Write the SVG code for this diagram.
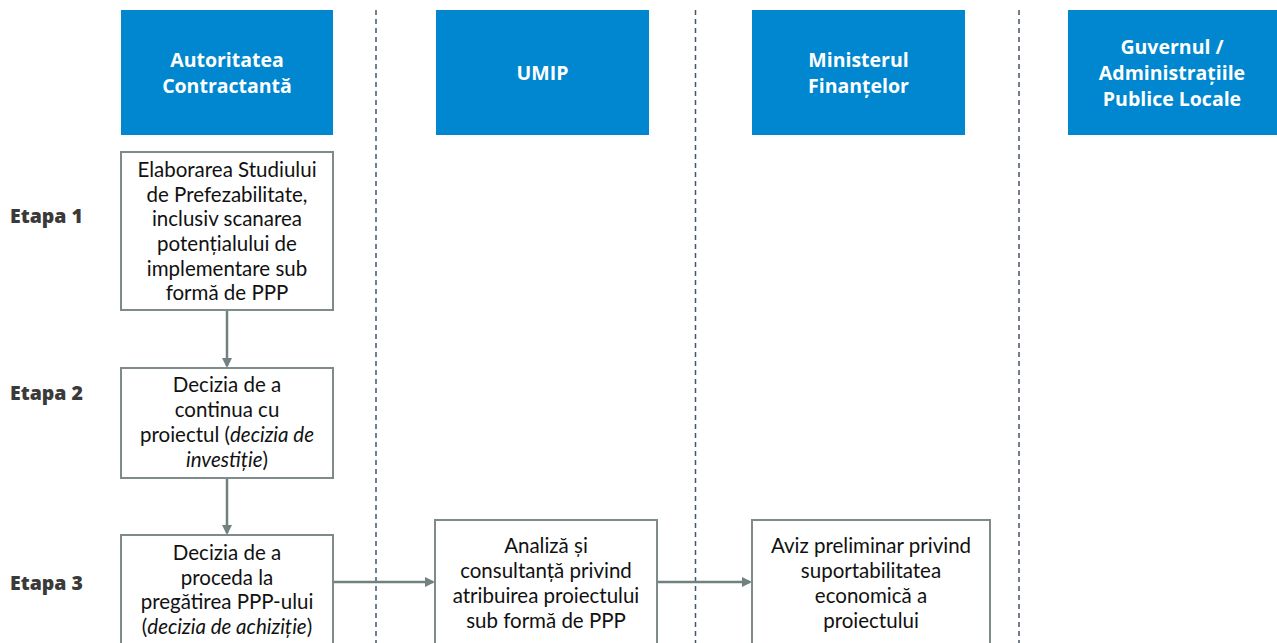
<svg xmlns="http://www.w3.org/2000/svg" width="1277" height="643" viewBox="0 0 1277 643">
<style>
.hdr{fill:#0087CF}
.hdrt{font-family:"Open Sans","Noto Sans",sans-serif;font-weight:bold;font-size:19.5px;fill:#fff;text-anchor:middle}
.box{fill:#fff;stroke:#7F8B8B;stroke-width:2}
.t{font-family:Lato,"Open Sans",sans-serif;font-size:20.5px;fill:#111;text-anchor:middle}
.et{font-family:"Open Sans","Noto Sans",sans-serif;font-weight:800;font-size:19.5px;fill:#3a3a3a}
.lane{stroke:#44546A;stroke-width:1.5;stroke-dasharray:5 4;fill:none}
.con{stroke:#72807F;stroke-width:2.5;fill:none;marker-end:url(#ah)}
</style>
<defs>
<marker id="ah" markerWidth="10" markerHeight="10" refX="8" refY="5" orient="auto" markerUnits="userSpaceOnUse">
<path d="M0,0 L10,5 L0,10 z" fill="#72807F"/>
</marker>
</defs>
<rect width="1277" height="643" fill="#fff"/>
<g id="lanes">
<line class="lane" x1="376" y1="10" x2="376" y2="643"/>
<line class="lane" x1="695.5" y1="10" x2="695.5" y2="643"/>
<line class="lane" x1="1019" y1="10" x2="1019" y2="643"/>
</g>
<g id="hdr-ac"><rect class="hdr" x="121" y="10" width="212" height="125"/>
<text class="hdrt" x="227" y="67">Autoritatea</text><text class="hdrt" x="227" y="93">Contractantă</text></g>
<g id="hdr-umip"><rect class="hdr" x="436" y="10" width="213" height="125"/>
<text class="hdrt" x="542.5" y="80">UMIP</text></g>
<g id="hdr-mf"><rect class="hdr" x="752" y="10" width="213" height="125"/>
<text class="hdrt" x="858.5" y="67">Ministerul</text><text class="hdrt" x="858.5" y="93">Finanțelor</text></g>
<g id="hdr-gov"><rect class="hdr" x="1068" y="10" width="209" height="125"/>
<text class="hdrt" x="1172" y="54">Guvernul /</text><text class="hdrt" x="1172" y="80">Administrațiile</text><text class="hdrt" x="1172" y="106">Publice Locale</text></g>
<g id="etape">
<text class="et" x="10" y="223">Etapa 1</text>
<text class="et" x="10" y="400">Etapa 2</text>
<text class="et" x="10" y="590">Etapa 3</text>
</g>
<g id="n1"><rect class="box" x="121" y="152" width="212" height="158"/>
<text class="t" x="227" y="177">Elaborarea Studiului</text>
<text class="t" x="227" y="201.5">de Prefezabilitate,</text>
<text class="t" x="227" y="226">inclusiv scanarea</text>
<text class="t" x="227" y="251">potențialului de</text>
<text class="t" x="227" y="276">implementare sub</text>
<text class="t" x="227" y="300">formă de PPP</text></g>
<g id="n2"><rect class="box" x="121" y="368" width="212" height="110"/>
<text class="t" x="227" y="392">Decizia de a</text>
<text class="t" x="227" y="417">continua cu</text>
<text class="t" x="227" y="442">proiectul (<tspan font-style="italic">decizia de</tspan></text>
<text class="t" x="227" y="467"><tspan font-style="italic">investiție</tspan>)</text></g>
<g id="n3"><rect class="box" x="121" y="535" width="212" height="120"/>
<text class="t" x="227" y="560">Decizia de a</text>
<text class="t" x="227" y="585">proceda la</text>
<text class="t" x="227" y="609">pregătirea PPP-ului</text>
<text class="t" x="227" y="634">(<tspan font-style="italic">decizia de achiziție</tspan>)</text></g>
<g id="n4"><rect class="box" x="435" y="520" width="222" height="135"/>
<text class="t" x="546" y="553">Analiză și</text>
<text class="t" x="546" y="578">consultanță privind</text>
<text class="t" x="546" y="603">atribuirea proiectului</text>
<text class="t" x="546" y="628">sub formă de PPP</text></g>
<g id="n5"><rect class="box" x="752" y="520" width="238" height="135"/>
<text class="t" x="871" y="553">Aviz preliminar privind</text>
<text class="t" x="871" y="578">suportabilitatea</text>
<text class="t" x="871" y="603">economică a</text>
<text class="t" x="871" y="628">proiectului</text></g>
<g id="connectors">
<line class="con" x1="227" y1="311" x2="227" y2="366"/>
<line class="con" x1="227" y1="479" x2="227" y2="533"/>
<line class="con" x1="334" y1="582" x2="433" y2="582"/>
<line class="con" x1="658" y1="582" x2="750" y2="582"/>
</g>
</svg>
